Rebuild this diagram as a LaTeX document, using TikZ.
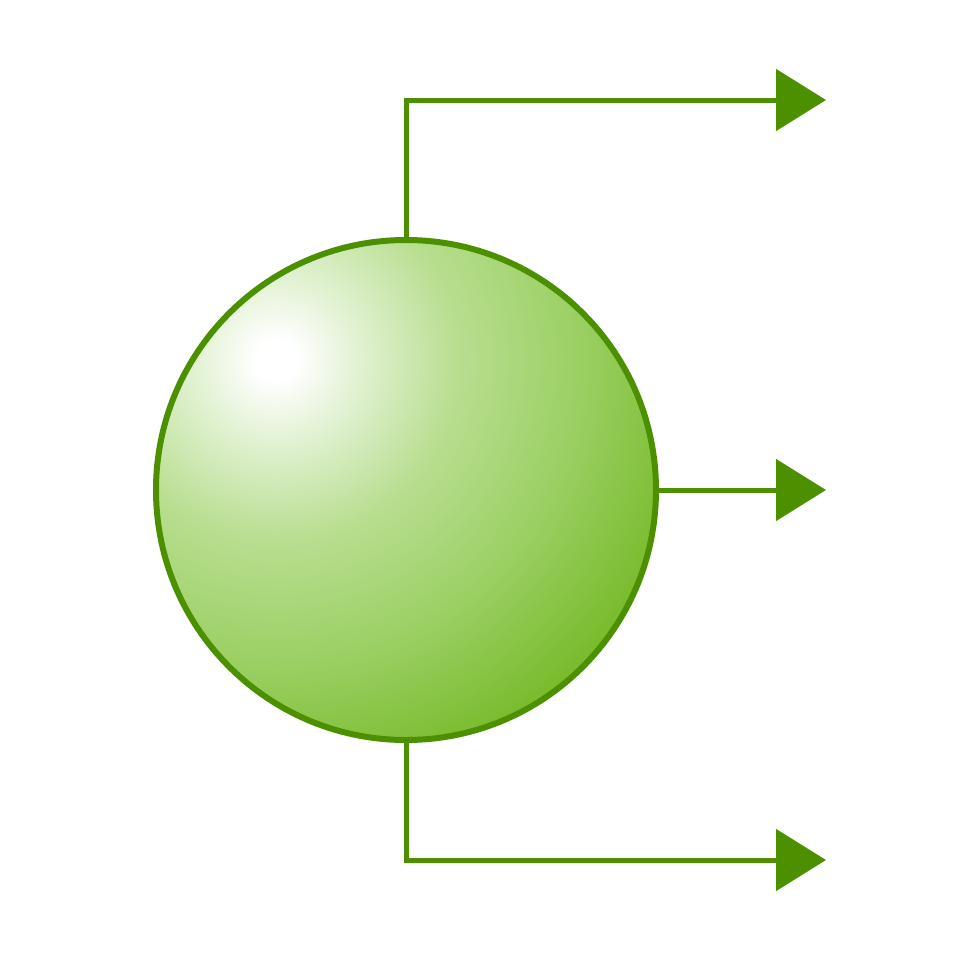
\documentclass[tikz,border=0pt]{standalone}
\usetikzlibrary{arrows.meta}
\definecolor{lineg}{HTML}{4C9000}
\definecolor{ga}{HTML}{E2F2D3}
\definecolor{gb}{HTML}{B8DE90}
\definecolor{gc}{HTML}{9CD065}
\definecolor{gd}{HTML}{78BB2C}
\pgfdeclareradialshading{sphereshade}{\pgfpoint{0bp}{0bp}}{color(0bp)=(white); color(1.1bp)=(white); color(4.4bp)=(ga); color(9.8bp)=(gb); color(16.3bp)=(gc); color(23.4bp)=(gd); color(50bp)=(gd)}
\tikzset{
  conn/.style={draw=lineg, line width=0.1cm, -{Triangle[length=1cm,width=1.22cm]}, fill=none},
  ballnode/.style={circle, draw=lineg, line width=0.12cm, minimum size=10cm, inner sep=0pt,
    path picture={\shade[shading=sphereshade] ([shift={(-2.6,2.6)}]path picture bounding box.center) circle[radius=9.2cm];}}
}
\begin{document}
\begin{tikzpicture}
\useasboundingbox (0,0) rectangle (19.6,-19.6);
\node[ballnode] (ball) at (8.12,-9.8) {};
\coordinate (t1) at (16.52,-2);
\coordinate (t2) at (16.52,-9.8);
\coordinate (t3) at (16.52,-17.2);
\draw[conn] (ball.north) |- (t1);
\draw[conn] (ball.east) -- (t2);
\draw[conn] (ball.south) |- (t3);
\end{tikzpicture}
\end{document}
